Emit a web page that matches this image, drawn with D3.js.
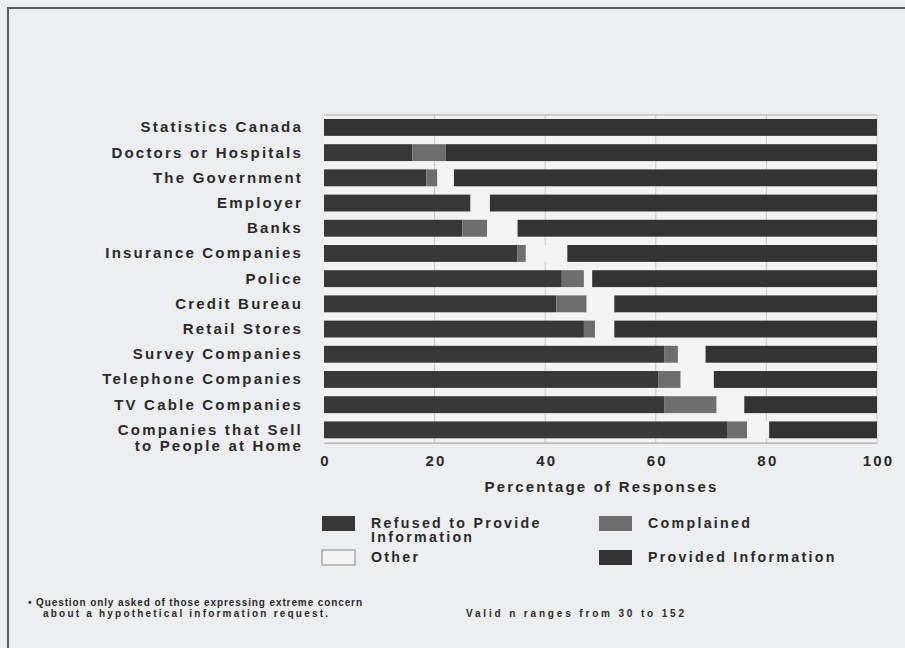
<!DOCTYPE html>
<html><head><meta charset="utf-8">
<script src="https://cdn.jsdelivr.net/npm/d3@7"></script>
<style>
html,body{margin:0;padding:0;background:#eceef0;}
svg{display:block;}
text{font-family:"Liberation Sans",Arial,sans-serif;font-weight:bold;fill:#2a2a2a;}
</style></head><body>
<svg id="c" width="905" height="648"></svg>
<script>
const categories = ["Statistics Canada","Doctors or Hospitals","The Government","Employer","Banks","Insurance Companies","Police","Credit Bureau","Retail Stores","Survey Companies","Telephone Companies","TV Cable Companies","Companies that Sell|to People at Home"];
const refused    = [0, 16, 18.5, 26.5, 25, 35, 43, 42, 47, 61.5, 60.5, 61.5, 73];
const complained = [0, 6, 2, 0, 4.5, 1.5, 4, 5.5, 2, 2.5, 4, 9.5, 3.5];
const other      = [0, 0, 3, 3.5, 5.5, 7.5, 1.5, 5, 3.5, 5, 6, 5, 4];
const provided   = refused.map((r,i)=> +(100 - r - complained[i] - other[i]).toFixed(1));
const seriesNames = ["Refused to Provide Information","Complained","Other","Provided Information"];
const xTicks = [0,20,40,60,80,100];
const footnote1 = "• Question only asked of those expressing extreme concern";
const footnote2a = "about a hypothetical information request.";
const footnote2b = "Valid n ranges from 30 to 152";

const colors = {"Refused to Provide Information":"#383838","Complained":"#6e6e6e","Other":"#f4f4f4","Provided Information":"#333333"};
const FS = "15px", LS = "2.2px";

const svg = d3.select("#c");
svg.append("path").attr("d","M8,648 L8,8 L905,8").attr("fill","none").attr("stroke","#5a5a5a").attr("stroke-width",2);

const x = d3.scaleLinear().domain([0,100]).range([324,877]);
const y = d3.scaleBand().domain(categories).range([114.7,442.6]).paddingInner(0.33).paddingOuter(0.17);

svg.append("rect").attr("x",x(0)).attr("y",114.7).attr("width",x(100)-x(0)).attr("height",442.6-114.7).attr("fill","#f3f3f3");
svg.append("g").selectAll("line").data(xTicks.slice(1)).join("line")
  .attr("x1",d=>x(d)).attr("x2",d=>x(d)).attr("y1",114.7).attr("y2",442.6)
  .attr("stroke","#c8c8c8").attr("stroke-width",1);
svg.append("line").attr("x1",x(0)).attr("x2",x(100)).attr("y1",115).attr("y2",115).attr("stroke","#aaa");

const rows = categories.map((c,i)=>({cat:c, "Refused to Provide Information":refused[i], "Complained":complained[i], "Other":other[i], "Provided Information":provided[i]}));
const stack = d3.stack().keys(seriesNames)(rows);
svg.append("g").selectAll("g").data(stack).join("g")
  .attr("fill",d=>colors[d.key])
  .selectAll("rect").data(d=>d.filter(p=>p[1]-p[0]>0)).join("rect")
  .attr("x",d=>x(d[0])).attr("width",d=>x(d[1])-x(d[0]))
  .attr("y",d=>y(d.data.cat)).attr("height",y.bandwidth());

const ax = svg.append("g").attr("transform","translate(0,442.6)").call(d3.axisBottom(x).tickValues(xTicks).tickSize(0).tickPadding(13));
ax.select(".domain").attr("stroke","#999");
ax.selectAll("text").style("font-size",FS).style("letter-spacing",LS).attr("fill","#2a2a2a").attr("dx","1px");

const lab = svg.append("g").selectAll("text").data(categories).join("text")
  .attr("x",303).attr("text-anchor","end").style("font-size",FS).style("letter-spacing",LS)
  .attr("y",d=>y(d)+y.bandwidth()/2+5);
lab.each(function(d){
  const parts=d.split("|"); const t=d3.select(this);
  parts.forEach((p,k)=>t.append("tspan").attr("x",303).attr("dy",k?16:0).text(p));
});

svg.append("text").attr("x",(x(0)+x(100))/2+1).attr("y",492).attr("text-anchor","middle")
  .style("font-size",FS).style("letter-spacing",LS).text("Percentage of Responses");

const leg = [
 {name:seriesNames[0], lines:["Refused to Provide","Information"], x:322, y:516},
 {name:seriesNames[1], lines:["Complained"], x:599, y:516},
 {name:seriesNames[2], lines:["Other"], x:322, y:550},
 {name:seriesNames[3], lines:["Provided Information"], x:599, y:550}
];
const lg = svg.append("g").selectAll("g").data(leg).join("g").attr("transform",d=>`translate(${d.x},${d.y})`);
lg.append("rect").attr("width",33).attr("height",15).attr("fill",d=>colors[d.name])
  .attr("stroke",d=>d.name==="Other"?"#888":"none");
lg.append("g").each(function(d){
  const g=d3.select(this);
  d.lines.forEach((l,k)=>g.append("text").attr("x",49).attr("y",11.5+k*14.5)
    .style("font-size","14.2px").style("letter-spacing","2.3px").text(l));
});

const fn = svg.append("g").style("font-size","10px");
fn.append("text").attr("x",28).attr("y",606).attr("textLength",334).attr("lengthAdjust","spacing").text(footnote1);
fn.append("text").attr("x",43).attr("y",617).attr("textLength",285).attr("lengthAdjust","spacing").text(footnote2a);
fn.append("text").attr("x",466).attr("y",617).attr("textLength",218).attr("lengthAdjust","spacing").text(footnote2b);
</script></body></html>
